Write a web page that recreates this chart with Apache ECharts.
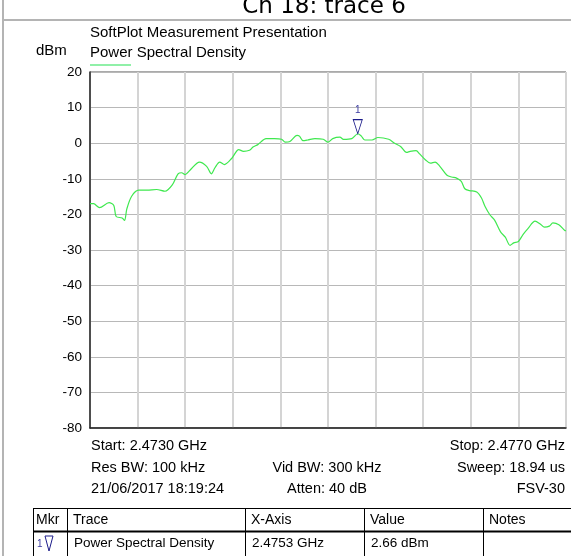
<!DOCTYPE html>
<html lang="en">
<head>
  <meta charset="UTF-8">
  <title>Ch 18: trace 6</title>
  <style>
    html, body, #chart {
      margin: 0;
      padding: 0;
      width: 571px;
      height: 556px;
      background: #fff;
    }
  </style>
</head>
<body>
<div id="chart"></div>

<script src="https://cdn.jsdelivr.net/npm/echarts@6/dist/echarts.min.js"></script>
<script>
  // trace readings: frequency (GHz) and level (dBm)
  var startGHz = 2.473;
  var stopGHz = 2.477;
  var freqGHz = [
    2.47300, 2.47303, 2.47308, 2.47316, 2.47320, 2.47322, 2.47327, 2.47329, 2.47331, 2.47335,
    2.47341, 2.47348, 2.47356, 2.47363, 2.47369, 2.47374, 2.47377, 2.47380, 2.47384, 2.47392,
    2.47398, 2.47402, 2.47405, 2.47409, 2.47413, 2.47419, 2.47425, 2.47429, 2.47434, 2.47437,
    2.47441, 2.47448, 2.47455, 2.47461, 2.47464, 2.47468, 2.47474, 2.47476, 2.47479, 2.47483,
    2.47489, 2.47496, 2.47500, 2.47504, 2.47510, 2.47513, 2.47520, 2.47525, 2.47528, 2.47531,
    2.47537, 2.47542, 2.47551, 2.47556, 2.47561, 2.47566, 2.47569, 2.47574, 2.47577, 2.47582,
    2.47586, 2.47590, 2.47594, 2.47600, 2.47604, 2.47608, 2.47612, 2.47615, 2.47619, 2.47625,
    2.47629, 2.47632, 2.47636, 2.47640, 2.47645, 2.47649, 2.47653, 2.47656, 2.47660, 2.47664,
    2.47668, 2.47674, 2.47678, 2.47682, 2.47686, 2.47689, 2.47694, 2.47699, 2.47700
  ];
  var levelDbm = [
    -17.0, -17.0, -18.1, -16.7, -17.5, -20.6, -21.0, -21.7, -18.4, -14.9,
    -13.2, -13.2, -13.0, -13.5, -11.8, -8.6, -8.3, -8.8, -7.6, -5.3,
    -6.5, -8.6, -6.9, -5.3, -6.0, -4.3, -1.8, -2.3, -2.0, -1.1,
    -0.4, 1.3, 1.3, 1.1, 0.3, 0.5, 2.2, 2.0, 0.7, 0.9,
    1.3, 1.1, 0.3, 1.3, 1.7, 1.1, 1.3, 2.66, 2.0, 0.9,
    0.9, 1.6, 1.1, 0.0, -0.9, -2.6, -2.3, -2.1, -3.0, -4.7,
    -5.6, -5.3, -6.5, -9.0, -9.5, -9.8, -10.7, -12.8, -13.3, -13.7,
    -15.4, -17.8, -20.1, -21.6, -24.9, -26.4, -28.7, -28.0, -27.6, -25.6,
    -24.0, -21.9, -22.6, -23.6, -23.3, -22.4, -22.9, -24.5, -24.6
  ];
  var yTicks = [20, 10, 0, -10, -20, -30, -40, -50, -60, -70, -80];

  // marker 1
  var markerFreqGHz = 2.47525;
  var markerLevel = 2.66;

  // info lines under the plot
  var infoLeft = ['Start: 2.4730 GHz', 'Res BW: 100 kHz', '21/06/2017 18:19:24'];
  var infoMid = ['', 'Vid BW: 300 kHz', 'Atten: 40 dB'];
  var infoRight = ['Stop: 2.4770 GHz', 'Sweep: 18.94 us', 'FSV-30'];

  // marker table
  var tableHeader = ['Mkr', 'Trace', 'X-Axis', 'Value', 'Notes'];
  var tableRow = ['', 'Power Spectral Density', '2.4753 GHz', '2.66 dBm', ''];
  var tableCols = [33, 67, 245, 364, 483, 571];

  var FONT = '"Liberation Sans", Arial, sans-serif';
  var NAVY = '#1c1c8a';

  // x axis runs as kHz offset from the start frequency
  function toKHz(f) { return Math.round((f - startGHz) * 1e6 * 10) / 10; }
  var traceData = freqGHz.map(function (f, i) { return [toKHz(f), levelDbm[i]]; });
  var spanKHz = toKHz(stopGHz);

  var graphics = [];
  // outer frame
  graphics.push({ type: 'line', shape: { x1: 3, y1: 0, x2: 3, y2: 556 }, style: { stroke: '#b4b4b4', lineWidth: 2 } });
  graphics.push({ type: 'line', shape: { x1: 3, y1: 20, x2: 571, y2: 20 }, style: { stroke: '#b4b4b4', lineWidth: 2 } });
  graphics.push({ type: 'text', x: 324, y: 7, style: { text: 'Ch 18: trace 6', font: '23px "DejaVu Sans", sans-serif', fill: '#000', textAlign: 'center', textVerticalAlign: 'middle' } });

  graphics.push({ type: 'text', x: 90, y: 33, style: { text: 'SoftPlot Measurement Presentation', font: '15px ' + FONT, fill: '#000', textVerticalAlign: 'middle' } });
  graphics.push({ type: 'text', x: 36, y: 51, style: { text: 'dBm', font: '15px ' + FONT, fill: '#000', textVerticalAlign: 'middle' } });
  graphics.push({ type: 'text', x: 90, y: 53, style: { text: 'Power Spectral Density', font: '15px ' + FONT, fill: '#000', textVerticalAlign: 'middle' } });
  graphics.push({ type: 'line', shape: { x1: 90, y1: 65, x2: 131, y2: 65 }, style: { stroke: '#90f0a8', lineWidth: 2 } });

  // info rows
  var rowY = [446, 468, 489];
  for (var i = 0; i < 3; i++) {
    graphics.push({ type: 'text', x: 91, y: rowY[i], style: { text: infoLeft[i], font: '14.5px ' + FONT, fill: '#000', textVerticalAlign: 'middle' } });
    graphics.push({ type: 'text', x: 327, y: rowY[i], style: { text: infoMid[i], font: '14.5px ' + FONT, fill: '#000', textAlign: 'center', textVerticalAlign: 'middle' } });
    graphics.push({ type: 'text', x: 565, y: rowY[i], style: { text: infoRight[i], font: '14.5px ' + FONT, fill: '#000', textAlign: 'right', textVerticalAlign: 'middle' } });
  }

  // table grid
  var tTop = 508, tMid = 531.5, tBot = 556;
  graphics.push({ type: 'line', shape: { x1: 33, y1: tTop + 0.5, x2: 571, y2: tTop + 0.5 }, style: { stroke: '#000', lineWidth: 1 } });
  graphics.push({ type: 'line', shape: { x1: 33, y1: tMid, x2: 571, y2: tMid }, style: { stroke: '#000', lineWidth: 2 } });
  tableCols.forEach(function (cx, k) {
    if (k === tableCols.length - 1) return;
    graphics.push({ type: 'line', shape: { x1: cx + 0.5, y1: tTop, x2: cx + 0.5, y2: tBot }, style: { stroke: '#000', lineWidth: 1 } });
  });
  tableHeader.forEach(function (t, k) {
    var pad = k === 0 ? 3 : 6;
    graphics.push({ type: 'text', x: tableCols[k] + pad, y: 520, style: { text: t, font: '14px ' + FONT, fill: '#000', textVerticalAlign: 'middle' } });
  });
  tableRow.forEach(function (t, k) {
    if (!t) return;
    graphics.push({ type: 'text', x: tableCols[k] + 7, y: 543, style: { text: t, font: '13.5px ' + FONT, fill: '#000', textVerticalAlign: 'middle' } });
  });
  graphics.push({ type: 'text', x: 37, y: 544, style: { text: '1', font: '10px ' + FONT, fill: '#3a3aa0', textVerticalAlign: 'middle' } });
  graphics.push({ type: 'polygon', shape: { points: [[45, 536], [53, 536], [49, 551]] }, style: { fill: 'none', stroke: NAVY, lineWidth: 1 } });

  var chart = echarts.init(document.getElementById('chart'), null, { renderer: 'canvas' });
  chart.setOption({
    animation: false,
    backgroundColor: '#fff',
    grid: { left: 90, right: 5, top: 72, bottom: 128, show: true, borderColor: '#555', borderWidth: 1 },
    xAxis: {
      type: 'value',
      min: 0,
      max: spanKHz,
      interval: 400,
      axisLine: { show: true, onZero: false, lineStyle: { color: '#222', width: 1.5 } },
      axisTick: { show: false },
      axisLabel: { show: false },
      splitLine: { show: true, lineStyle: { color: '#d4d4d4', width: 2 } }
    },
    yAxis: {
      type: 'value',
      min: yTicks[yTicks.length - 1],
      max: yTicks[0],
      interval: 10,
      axisLine: { show: true, onZero: false, lineStyle: { color: '#222', width: 1.5 } },
      axisTick: { show: false },
      axisLabel: { color: '#000', fontSize: 13.5, fontFamily: FONT, margin: 8 },
      splitLine: { show: true, lineStyle: { color: '#b8b8b8', width: 1 } }
    },
    series: [{
      type: 'line',
      data: traceData,
      showSymbol: false,
      smooth: 0.3,
      lineStyle: { color: '#3fe84f', width: 1.2 },
      markPoint: {
        symbol: 'path://M0,0 L10,0 L5,16 Z',
        symbolSize: [9, 14],
        symbolOffset: [0, -7],
        itemStyle: { color: 'rgba(0,0,0,0)', borderColor: NAVY, borderWidth: 1 },
        label: { show: true, position: 'top', distance: 4, formatter: '1', color: '#3a3aa0', fontSize: 10, fontFamily: FONT },
        data: [{ coord: [toKHz(markerFreqGHz), markerLevel] }]
      }
    }],
    graphic: graphics
  });
</script>
</body>
</html>
